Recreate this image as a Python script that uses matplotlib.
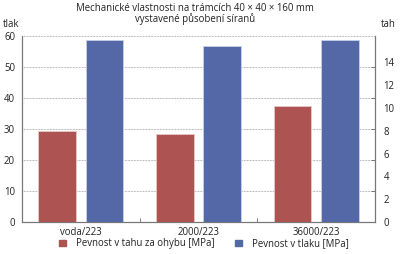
import matplotlib
matplotlib.use('Agg')
import matplotlib.pyplot as plt
from matplotlib.patches import Patch

plt.rcParams['font.family'] = ['Open Sans', 'DejaVu Sans']

# data
categories = ['voda/223', '2000/223', '36000/223']
tah = [8.0, 7.7, 10.2]        # Pevnost v tahu za ohybu [MPa] (right axis)
tlak = [58.7, 56.9, 58.8]     # Pevnost v tlaku [MPa] (left axis)
left_ticks = [0, 10, 20, 30, 40, 50, 60]
right_ticks = [0, 2, 4, 6, 8, 10, 12, 14]

red = '#AD5352'
blue = '#5468A8'
txt = '#222222'
fs = 6.9

fig = plt.figure(figsize=(4, 2.54), dpi=100)
ax = fig.add_axes([0.055, 0.126, 0.8825, 0.732])
ax2 = ax.twinx()

x = range(len(categories))
w = 0.32
ax.bar([i + 0.2 for i in x], tlak, w, color=blue, edgecolor='#c8d0e8', linewidth=0.6, zorder=3)
ax2.bar([i - 0.2 for i in x], tah, w, color=red, edgecolor='#e8c8c8', linewidth=0.6, zorder=3)

ax.set_xlim(-0.5, 2.5)
ax.set_ylim(0, 60)
ax2.set_ylim(0, 16.3)

# dotted grid on left scale
for v in left_ticks[1:]:
    ax.axhline(v, color='#777777', lw=0.5, ls=(0, (1, 1.2)), zorder=1)

ax.set_yticks(left_ticks)
ax.tick_params(axis='y', length=0, labelsize=fs, labelcolor=txt, pad=5)
ax.set_xticks(list(x))
ax.set_xticklabels(categories)
ax.set_xticks([0.5, 1.5], minor=True)
ax.tick_params(axis='x', which='major', length=0, labelsize=fs, labelcolor=txt, pad=3.5)
ax.tick_params(axis='x', which='minor', direction='in', length=3, color='#666666')

ax2.set_yticks(right_ticks)
ax2.tick_params(axis='y', length=0, labelsize=fs, labelcolor=txt, pad=6)
ax2.set_yticks([v * 16.3 / 60 for v in left_ticks[1:-1]], minor=True)
ax2.tick_params(axis='y', which='minor', direction='in', length=3, color='#666666')

for a in (ax, ax2):
    a.spines['top'].set_visible(False)
    for s in ('left', 'right', 'bottom'):
        a.spines[s].set_color('#777777')
        a.spines[s].set_linewidth(0.8)

fig.text(0.4875, 0.99, 'Mechanické vlastnosti na trámcích 40 × 40 × 160 mm\nvystavené působení síranů',
         ha='center', va='top', fontsize=fs, color=txt, linespacing=1.0)
fig.text(0.008, 0.905, 'tlak', ha='left', va='center', fontsize=fs, color=txt)
fig.text(0.952, 0.905, 'tah', ha='left', va='center', fontsize=fs, color=txt)

handles = [Patch(color=red, label='Pevnost v tahu za ohybu [MPa]'),
           Patch(color=blue, label='Pevnost v tlaku [MPa]')]
fig.legend(handles=handles, loc='center', bbox_to_anchor=(0.51, 0.04), ncol=2, frameon=False,
           fontsize=fs, handlelength=0.7, handleheight=0.7, columnspacing=2.2, handletextpad=1.0,
           labelcolor=txt)

fig.savefig('out.png', dpi=100)
